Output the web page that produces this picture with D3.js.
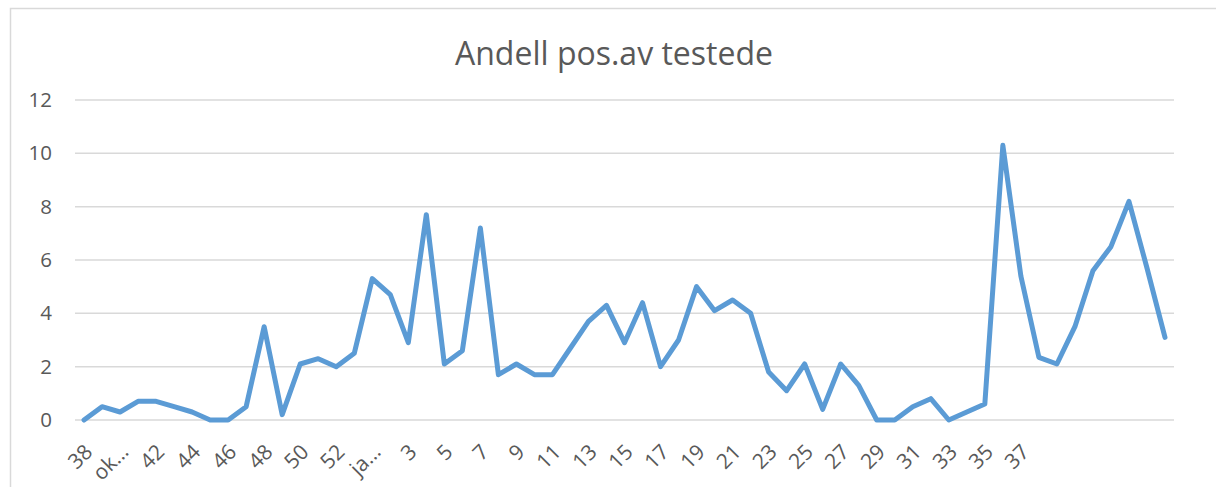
<!DOCTYPE html>
<html>
<meta charset="utf-8">
<style>
body { margin: 0; background: #fff; }
.grid line { stroke: #d9d9d9; stroke-width: 1.5px; }
.axis text { font-family: "Open Sans", sans-serif; fill: #595959; }
.line { fill: none; stroke: #5b9bd5; stroke-width: 5px; stroke-linejoin: round; stroke-linecap: round; }
</style>
<body>
<script src="https://d3js.org/d3.v7.min.js"></script>
<script>

// week labels (blank ones have no label in the original)
var weeks = ["38","39","okt","41","42","43","44","45","46","47","48","49","50","51","52","53",
             "jan","2","3","4","5","6","7","8","9","10","11","12","13","14","15","16","17","18","19","20",
             "21","22","23","24","25","26","27","28","29","30","31","32","33","34","35","36","37",
             "","","","","","","",""];

// share positive of tested (%)
var andel = [0, 0.5, 0.3, 0.7, 0.7, 0.5, 0.3, 0, 0, 0.5, 3.5, 0.2, 2.1, 2.3, 2.0, 2.5,
             5.3, 4.7, 2.9, 7.7, 2.1, 2.6, 7.2, 1.7, 2.1, 1.7, 1.7, 2.7, 3.7, 4.3, 2.9, 4.4,
             2.0, 3.0, 5.0, 4.1, 4.5, 4.0, 1.8, 1.1, 2.1, 0.4, 2.1, 1.3, 0, 0, 0.5, 0.8,
             0, 0.3, 0.6, 10.3, 5.4, 2.35, 2.1, 3.5, 5.6, 6.5, 8.2, 5.7, 3.1];

var yTicks = [0, 2, 4, 6, 8, 10, 12];

var W = 1216, H = 487;
var margin = {top: 100, right: 42, bottom: 67, left: 75},
    width = W - margin.left - margin.right,
    height = H - margin.top - margin.bottom;

var svg = d3.select("body").append("svg")
    .attr("width", W)
    .attr("height", H);

// chart border
svg.append("rect")
    .attr("x", 10.5).attr("y", 8.5)
    .attr("width", W + 20).attr("height", H + 20)
    .attr("fill", "none").attr("stroke", "#d9d9d9").attr("stroke-width", 1.5);

// title
svg.append("text")
    .attr("x", 614).attr("y", 65)
    .attr("text-anchor", "middle")
    .style("font-family", "'Open Sans', sans-serif")
    .style("font-size", "32px")
    .style("fill", "#595959")
    .text("Andell pos.av testede");

var g = svg.append("g")
    .attr("transform", "translate(" + margin.left + "," + margin.top + ")");

var x = d3.scalePoint().domain(d3.range(weeks.length)).range([0, width]).padding(0.5);
var y = d3.scaleLinear().domain([0, 12]).range([height, 0]);

// gridlines
g.append("g").attr("class", "grid")
  .selectAll("line").data(yTicks).enter().append("line")
    .attr("x1", 0).attr("x2", width)
    .attr("y1", function(d) { return y(d); })
    .attr("y2", function(d) { return y(d); });

// y axis
var yAxis = g.append("g").attr("class", "axis")
    .call(d3.axisLeft(y).tickValues(yTicks).tickSize(0).tickPadding(23));
yAxis.select(".domain").remove();
yAxis.selectAll("text").style("font-size", "20.5px");

// x axis, every second label
var xAxis = g.append("g").attr("class", "axis")
    .attr("transform", "translate(0," + height + ")")
    .call(d3.axisBottom(x).tickSize(0)
      .tickValues(d3.range(0, weeks.length, 2))
      .tickFormat(function(i) {
        var s = weeks[i];
        return s.length > 2 && isNaN(+s) ? s.slice(0, 2) + "\u2026" : s;
      }));
xAxis.select(".domain").remove();
xAxis.selectAll("text")
    .style("font-size", "21px")
    .attr("text-anchor", "end")
    .attr("dy", "0.35em")
    .attr("transform", "translate(4,28) rotate(-45)")
    .attr("y", 0);

// line
var line = d3.line()
    .x(function(d, i) { return x(i); })
    .y(function(d) { return y(d); });

g.append("path")
    .datum(andel)
    .attr("class", "line")
    .attr("d", line);

</script>
</body>
</html>
